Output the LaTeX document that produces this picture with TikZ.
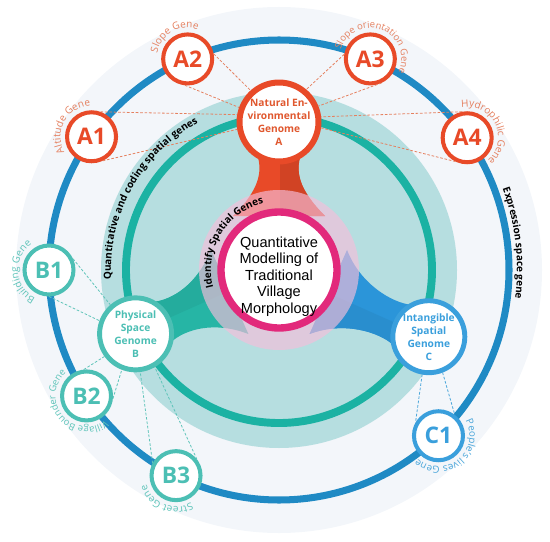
\documentclass[tikz,border=0pt]{standalone}
\usepackage{fontspec}
\setmainfont{Open Sans}
\newfontfamily\corefont{Liberation Sans}
\usetikzlibrary{decorations.text}

\definecolor{paleback}{HTML}{F3F6FA}
\definecolor{outerblue}{HTML}{1F8AC4}
\definecolor{tealdisc}{HTML}{B6DEE0}
\definecolor{tealring}{HTML}{1BB2A3}
\definecolor{pinkdisc}{HTML}{F5BEDB}
\definecolor{magentaring}{HTML}{E2297B}
\definecolor{natA}{HTML}{E84A28}
\definecolor{natAtext}{HTML}{E0582F}
\definecolor{natAlabel}{HTML}{E5805F}
\definecolor{phyB}{HTML}{4CBFB4}
\definecolor{phyBband}{HTML}{26B5A5}
\definecolor{phyBlabel}{HTML}{5EC4B9}
\definecolor{intC}{HTML}{3A9FDC}
\definecolor{intCband}{HTML}{2B95D9}
\definecolor{intClabel}{HTML}{4AA6DA}

\begin{document}
\begin{tikzpicture}[x=0.02cm,y=0.02cm,
    genome/.style={circle,fill=white,inner sep=0pt,minimum size=1.44cm,line width=2.8pt,align=center,font=\bfseries\fontsize{5.8}{7.4}\selectfont},
    gene/.style={circle,fill=white,inner sep=0pt,minimum size=0.98cm,line width=2.3pt,font=\bfseries\fontsize{13}{13}\selectfont},
    dashA/.style={natAlabel,line width=0.45pt,dash pattern=on 1.5pt off 1pt},
    dashB/.style={phyBlabel,line width=0.45pt,dash pattern=on 1.5pt off 1pt},
    dashC/.style={intClabel,line width=0.45pt,dash pattern=on 1.5pt off 1pt}]
      \useasboundingbox (-279,-271) rectangle (271,270);
      \fill[paleback] (0,0) circle[radius=263];
      \draw[outerblue,line width=4pt] (0,0) circle[radius=230];
      \fill[tealdisc] (0,0) circle[radius=178];
      \draw[tealring,line width=4.5pt] (0,0) circle[radius=153];

      % necks from the core to the three genomes
      \fill[natA] (-22,116) .. controls (-16,98) and (-20,80) .. (-46,54) -- (46,54) .. controls (20,80) and (16,98) .. (22,116) -- cycle;
      \begin{scope}
        \clip (1,40) rectangle (60,150);
        \fill[natA!90!black] (-22,116) .. controls (-16,98) and (-20,80) .. (-46,54) -- (46,54) .. controls (20,80) and (16,98) .. (22,116) -- cycle;
      \end{scope}
      \begin{scope}[rotate=114]
        \fill[phyBband] (-22,128) .. controls (-16,110) and (-20,80) .. (-46,54) -- (46,54) .. controls (20,80) and (16,110) .. (22,128) -- cycle;
        \clip (1,40) rectangle (60,160);
        \fill[phyBband!95!black] (-22,128) .. controls (-16,110) and (-20,80) .. (-46,54) -- (46,54) .. controls (20,80) and (16,110) .. (22,128) -- cycle;
      \end{scope}
      \begin{scope}[rotate=246]
        \fill[intCband] (-22,135) .. controls (-16,117) and (-20,80) .. (-46,54) -- (46,54) .. controls (20,80) and (16,117) .. (22,135) -- cycle;
        \clip (1,40) rectangle (60,170);
        \fill[intCband!95!black] (-22,135) .. controls (-16,117) and (-20,80) .. (-46,54) -- (46,54) .. controls (20,80) and (16,117) .. (22,135) -- cycle;
      \end{scope}

      \fill[pinkdisc,opacity=0.65] (0,0) circle[radius=80];
      \node[circle,draw=magentaring,line width=4.2pt,fill=white,minimum size=2.32cm] (core) at (0,0) {};
      \node[font=\corefont\fontsize{8.3}{9.45}\selectfont,align=center] (title) at (0,-6.5) {Quantitative\\Modelling of\\Traditional\\Village\\Morphology};

      \node[genome,draw=natA,text=natAtext,minimum size=1.58cm,line width=3.4pt] (A) at (90:148) {Natural En-\\vironmental\\Genome\\A};
      \node[genome,draw=phyB,text=phyB] (B) at (204:157) {Physical\\Space\\Genome\\B};
      \node[genome,draw=intC,text=intC] (C) at (336:164) {Intangible\\Spatial\\Genome\\C};

      \node[gene,draw=natA,text=natA] (A1) at (144.6:230) {A1};
      \node[gene,draw=natA,text=natA] (A2) at (113.4:230) {A2};
      \node[gene,draw=natA,text=natA] (A3) at (66.6:230) {A3};
      \node[gene,draw=natA,text=natA] (A4) at (35.1:230) {A4};
      \node[gene,draw=phyB,text=phyB] (B1) at (180:230) {B1};
      \node[gene,draw=phyB,text=phyB] (B2) at (213.2:230) {B2};
      \node[gene,draw=phyB,text=phyB] (B3) at (243.4:230) {B3};
      \node[gene,draw=intC,text=intC] (C1) at (313.9:230) {C1};

      \draw[dashA] (A1.70) -- (A.170);
      \draw[dashA] (A1.-65) -- (A.190);
      \draw[dashA] (A2.11) -- (A.132);
      \draw[dashA] (A2.-96) -- (A.160);
      \draw[dashA] (A3.170) -- (A.50);
      \draw[dashA] (A3.-65) -- (A.22);
      \draw[dashA] (A4.101) -- (A.7);
      \draw[dashA] (A4.-116) -- (A.-8);
      \draw[dashB] (B1.25) -- (B.131);
      \draw[dashB] (B1.-90) -- (B.160);
      \draw[dashB] (B2.96) -- (B.216);
      \draw[dashB] (B2.-6) -- (B.249);
      \draw[dashB] (B3.152) -- (B.277);
      \draw[dashB] (B3.38) -- (B.-60);
      \draw[dashC] (C.260) -- (C1.150);
      \draw[dashC] (C.-69) -- (C1.52);

      \path[decorate,decoration={text along path,text align=center,text={|\fontsize{5.7}{6}\selectfont\color{natAlabel}|Altitude Gene}}] ([shift={(301:31)}]A1.center) arc[start angle=301,end angle=1,radius=31];
      \path[decorate,decoration={text along path,text align=center,text={|\fontsize{5.7}{6}\selectfont\color{natAlabel}|Slope Gene}}] ([shift={(270:31)}]A2.center) arc[start angle=270,end angle=-30,radius=31];
      \path[decorate,decoration={text along path,text align=center,text={|\fontsize{5.4}{6}\selectfont\color{natAlabel}|Slope orientation Gene}}] ([shift={(219:31)}]A3.center) arc[start angle=219,end angle=-81,radius=31];
      \path[decorate,decoration={text along path,text align=center,text={|\fontsize{5.7}{6}\selectfont\color{natAlabel}|Hydrophilic Gene}}] ([shift={(176:31)}]A4.center) arc[start angle=176,end angle=-124,radius=31];
      \path[decorate,decoration={text along path,text align=center,text={|\fontsize{5.7}{6}\selectfont\color{phyBlabel}|Building Gene}}] ([shift={(334:31)}]B1.center) arc[start angle=334,end angle=34,radius=31];
      \path[decorate,decoration={text along path,text align=center,text={|\fontsize{5.4}{6}\selectfont\color{phyBlabel}|Village Bounder Gene}}] ([shift={(369.5:31)}]B2.center) arc[start angle=369.5,end angle=69.5,radius=31];
      \path[decorate,decoration={text along path,text align=center,text={|\fontsize{5.7}{6}\selectfont\color{phyBlabel}|Street Gene}}] ([shift={(38:31)}]B3.center) arc[start angle=38,end angle=-262,radius=31];
      \path[decorate,decoration={text along path,text align=center,text={|\fontsize{5.6}{6}\selectfont\color{intClabel}|People's lives Gene}}] ([shift={(98.5:31)}]C1.center) arc[start angle=98.5,end angle=-201.5,radius=31];

      \path[decorate,decoration={text along path,text align=center,text={|\bfseries\fontsize{5.7}{6}\selectfont|Quantitative and coding spatial genes}}] (231:168) arc[start angle=231,end angle=71,radius=168];
      \path[decorate,decoration={text along path,text align=center,text={|\bfseries\fontsize{5.7}{6}\selectfont|Identify Spatial Genes}}] (239:68) arc[start angle=239,end angle=59,radius=68];
      \path[decorate,decoration={text along path,text align=center,text={|\bfseries\fontsize{5.7}{6}\selectfont|Expression space gene}}] (60:238) arc[start angle=60,end angle=-47,radius=238];
    \end{tikzpicture}
\end{document}
